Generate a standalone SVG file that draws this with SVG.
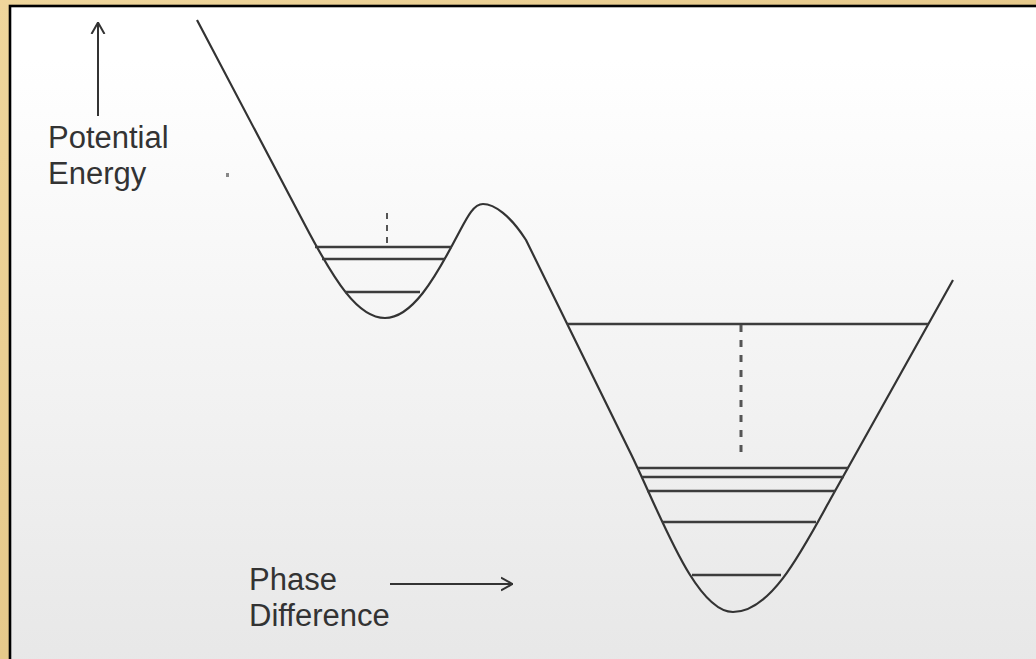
<svg xmlns="http://www.w3.org/2000/svg" width="1036" height="659" viewBox="0 0 1036 659">
  <defs>
    <linearGradient id="panel" x1="0" y1="0" x2="0" y2="1">
      <stop offset="0" stop-color="#ffffff"/>
      <stop offset="0.08" stop-color="#ffffff"/>
      <stop offset="1" stop-color="#e7e7e7"/>
    </linearGradient>
    <linearGradient id="tan" x1="0" y1="0" x2="1" y2="1">
      <stop offset="0" stop-color="#efd69c"/>
      <stop offset="0.5" stop-color="#e6c98b"/>
      <stop offset="1" stop-color="#ecd398"/>
    </linearGradient>
    <marker id="vhead" viewBox="0 0 12 16" refX="12" refY="8" markerWidth="12" markerHeight="16" markerUnits="userSpaceOnUse" orient="auto">
      <path d="M0,1.5 L11.5,8 L0,14.5" fill="none" stroke="#333" stroke-width="2"/>
    </marker>
    <style>
      .label { font-family: "Liberation Sans", Arial, sans-serif; font-size: 31px; fill: #333; }
      .curve { fill: none; stroke: #333; stroke-width: 2.2; stroke-linejoin: round; }
      .level { stroke: #3c3c3c; stroke-width: 2.5; }
      .dash { stroke: #555; fill: none; }
      .axis { stroke: #333; stroke-width: 2; fill: none; }
    </style>
  </defs>

  <rect x="0" y="0" width="1036" height="659" fill="url(#tan)"/>
  <rect x="10" y="6" width="1040" height="670" fill="url(#panel)" stroke="#000" stroke-width="2.6"/>

  <g id="potential-curve">
    <path class="curve" d="M197,20 L305,225 C335,282 358,318 385,318 C412,318 435,278 455,240 C465,222 472,204 483,204 C494,204 510,215 526,240 L630,452 C660,513 695,612 733,612 C770,612 800,555 830,500 L953,280"/>
  </g>

  <g id="left-well-levels">
    <line class="level" x1="315" y1="247" x2="452" y2="247"/>
    <line class="level" x1="322" y1="259" x2="445" y2="259"/>
    <line class="level" x1="345" y1="292" x2="420" y2="292" stroke-width="2"/>
    <line class="dash" x1="387" y1="213" x2="387" y2="244" stroke-width="2" stroke-dasharray="6 6"/>
  </g>

  <g id="right-well-levels">
    <line class="level" x1="567" y1="324" x2="928" y2="324" stroke="#555" stroke-width="3"/>
    <line class="level" x1="638" y1="468" x2="848" y2="468" stroke="#555" stroke-width="3"/>
    <line class="level" x1="642" y1="477" x2="844" y2="477"/>
    <line class="level" x1="647" y1="491" x2="835" y2="491"/>
    <line class="level" x1="662" y1="522" x2="816" y2="522" stroke="#555" stroke-width="3"/>
    <line class="level" x1="692" y1="575" x2="781" y2="575"/>
    <line class="dash" x1="741" y1="325" x2="741" y2="459" stroke-width="3" stroke-dasharray="7 8"/>
  </g>

  <g id="connectors">
    <line class="axis" x1="98" y1="116" x2="98" y2="22" marker-end="url(#vhead)"/>
    <line class="axis" x1="390" y1="584" x2="513" y2="584" marker-end="url(#vhead)"/>
  </g>

  <g id="label-potential-energy">
    <text class="label" x="48" y="148">Potential</text>
    <text class="label" x="48" y="184">Energy</text>
  </g>

  <g id="label-phase-difference">
    <text class="label" x="249" y="590">Phase</text>
    <text class="label" x="249" y="626">Difference</text>
  </g>

  <rect x="226" y="173" width="3" height="4" fill="#888"/>
</svg>
